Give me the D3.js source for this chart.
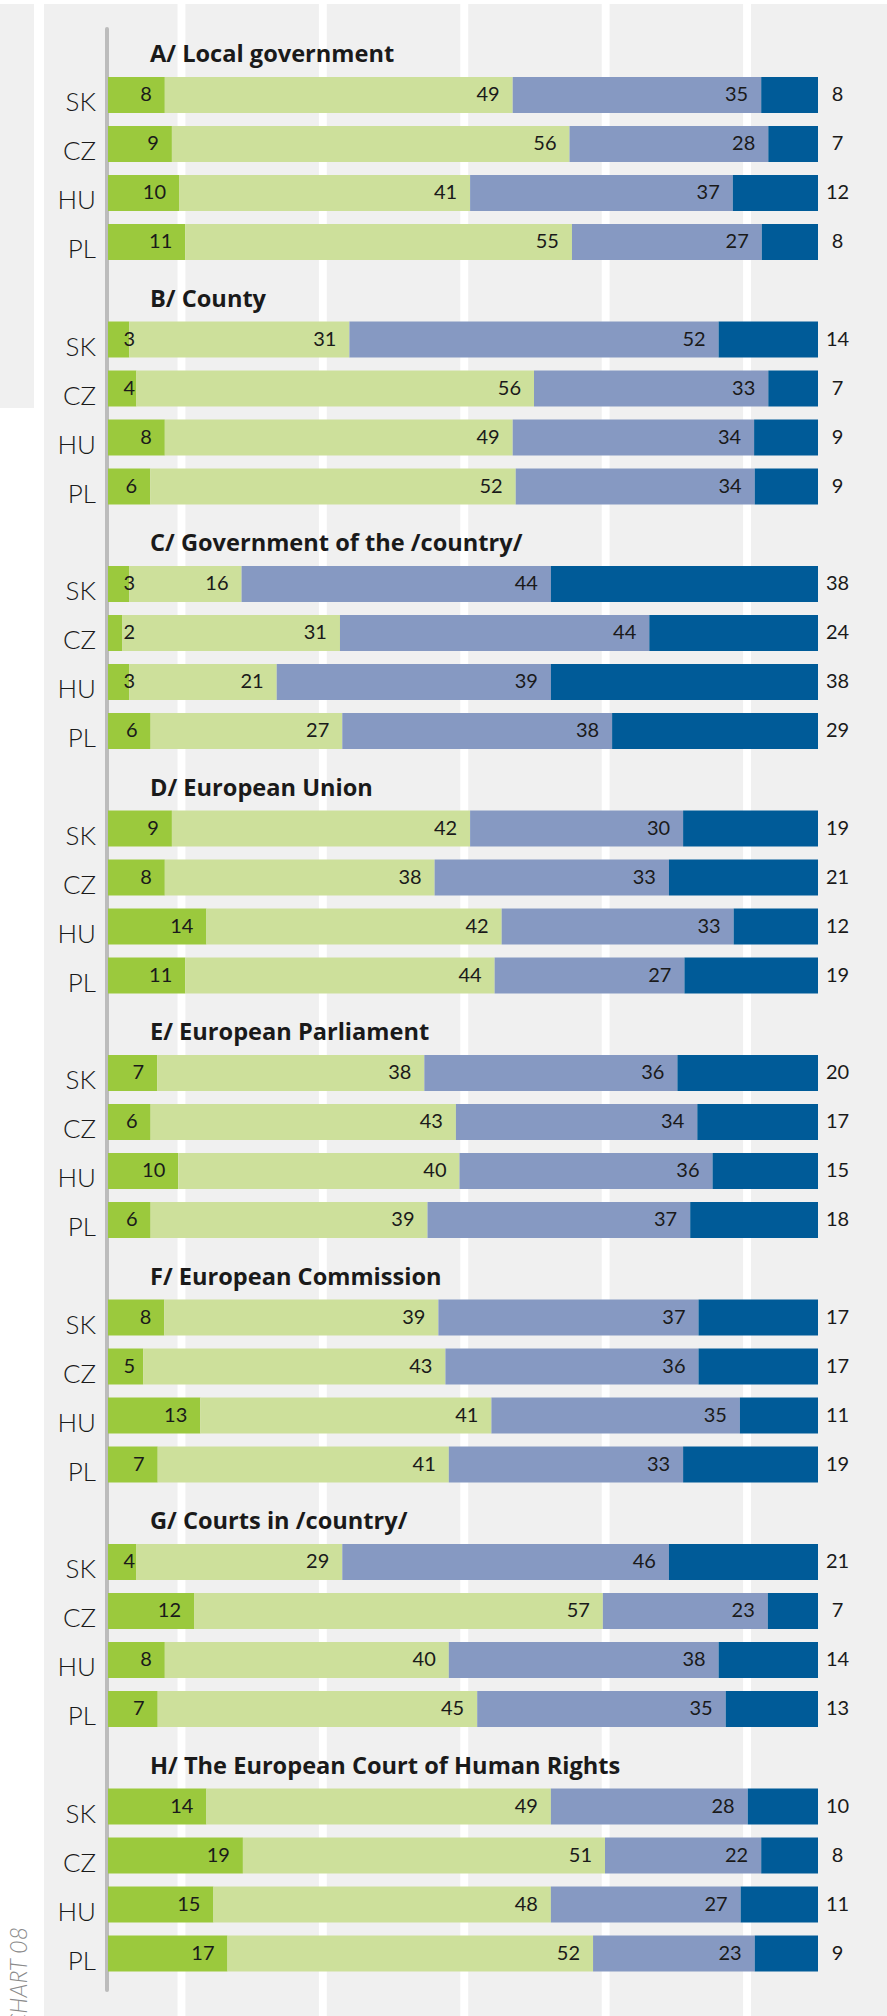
<!DOCTYPE html>
<html>
<head>
<meta charset="utf-8">
<script src="https://d3js.org/d3.v7.min.js"></script>
<style>
body { margin: 0; background: #fff; }
svg { display: block; }
text { font-family: Lato, "Open Sans", sans-serif; fill: #1a1a1a; }
.title { font-family: "Open Sans", Lato, sans-serif; font-weight: 700; font-size: 23.6px; }
.country { font-size: 26px; font-weight: 300; }
.val { font-size: 20px; font-weight: 400; }
.tag { font-size: 23px; font-style: italic; font-weight: 300; fill: #8a8a8a; }
</style>
</head>
<body>
<script>
// groups and countries
var groups = ["A/ Local government", "B/ County", "C/ Government of the /country/",
  "D/ European Union", "E/ European Parliament", "F/ European Commission",
  "G/ Courts in /country/", "H/ The European Court of Human Rights"];
var countries = ["SK", "CZ", "HU", "PL"];

// four series, one value per group x country (SK, CZ, HU, PL in each group)
var s1 = [8, 9, 10, 11,  3, 4, 8, 6,   3, 2, 3, 6,     9, 8, 14, 11,  7, 6, 10, 6,   8, 5, 13, 7,   4, 12, 8, 7,   14, 19, 15, 17];
var s2 = [49, 56, 41, 55, 31, 56, 49, 52, 16, 31, 21, 27, 42, 38, 42, 44, 38, 43, 40, 39, 39, 43, 41, 41, 29, 57, 40, 45, 49, 51, 48, 52];
var s3 = [35, 28, 37, 27, 52, 33, 34, 34, 44, 44, 39, 38, 30, 33, 33, 27, 36, 34, 36, 37, 37, 36, 35, 33, 46, 23, 38, 35, 28, 22, 27, 23];
var s4 = [8, 7, 12, 8,   14, 7, 9, 9,   38, 24, 38, 29, 19, 21, 12, 19, 20, 17, 15, 18, 17, 17, 11, 19, 21, 7, 14, 13, 10, 8, 11, 9];

var colors = ["#9bc93d", "#cde09b", "#8699c2", "#005b98"];

var W = 887, H = 2016;
var svg = d3.select("body").append("svg").attr("width", W).attr("height", H);

// background columns
var colX = d3.scaleLinear().domain([0, 1]).range([44, 185.4]);
svg.append("rect").attr("x", 0).attr("y", 4).attr("width", 34).attr("height", 404).attr("fill", "#f0f0f0");
svg.selectAll("rect.col").data(d3.range(6)).enter().append("rect").attr("class", "col")
  .attr("x", function(d){ return colX(d); })
  .attr("y", 4)
  .attr("width", function(d){ return d == 5 ? W - colX(d) : 133.5; })
  .attr("height", H - 4)
  .attr("fill", "#f0f0f0");

// rows
var rows = [];
groups.forEach(function(g, gi){
  countries.forEach(function(c, ci){
    var i = gi * 4 + ci;
    var v = [s1[i], s2[i], s3[i], s4[i]];
    rows.push({g: gi, c: ci, country: c, v: v, total: d3.sum(v)});
  });
});

var x = d3.scaleLinear().domain([0, 1]).range([108, 818]);
var yGroup = d3.scaleLinear().domain([0, 1]).range([77, 321.5]);
function barTop(r){ return yGroup(r.g) + r.c * 49; }
var barH = 36;

// axis line
svg.append("line").attr("x1", 107).attr("x2", 107).attr("y1", 29).attr("y2", 1990)
  .attr("stroke", "#bcbcbc").attr("stroke-width", 4).attr("stroke-linecap", "round");

// titles
svg.selectAll("text.title").data(groups).enter().append("text").attr("class", "title")
  .attr("x", 150).attr("y", function(d, i){ return yGroup(i) - 15; })
  .text(function(d){ return d; });

var rowG = svg.selectAll("g.row").data(rows).enter().append("g").attr("class", "row")
  .attr("transform", function(d){ return "translate(0," + barTop(d) + ")"; });

rowG.append("text").attr("class", "country")
  .attr("x", 96).attr("y", 34).attr("text-anchor", "end")
  .text(function(d){ return d.country; });

rowG.each(function(r){
  var gsel = d3.select(this);
  var segs = [], cum = 0;
  r.v.forEach(function(val, k){
    segs.push({k: k, val: val, x0: x(cum / r.total), x1: x((cum + val) / r.total)});
    cum += val;
  });
  gsel.selectAll("rect").data(segs).enter().append("rect")
    .attr("x", function(d){ return d.x0; }).attr("y", 0)
    .attr("width", function(d){ return d.x1 - d.x0; }).attr("height", barH)
    .attr("fill", function(d){ return colors[d.k]; });
  gsel.selectAll("text.val").data(segs).enter().append("text").attr("class", "val")
    .attr("text-anchor", function(d){ return d.k < 3 ? "end" : "middle"; })
    .attr("x", function(d){ return d.k < 3 ? Math.max(d.x1 - 13, d.x0 + 27) : 837.5; })
    .attr("y", 24)
    .text(function(d){ return d.val; });
});

svg.append("text").attr("class", "tag").attr("text-anchor", "end")
  .attr("transform", "translate(27,1927) rotate(-90)").text("CHART 08");
</script>
</body>
</html>
